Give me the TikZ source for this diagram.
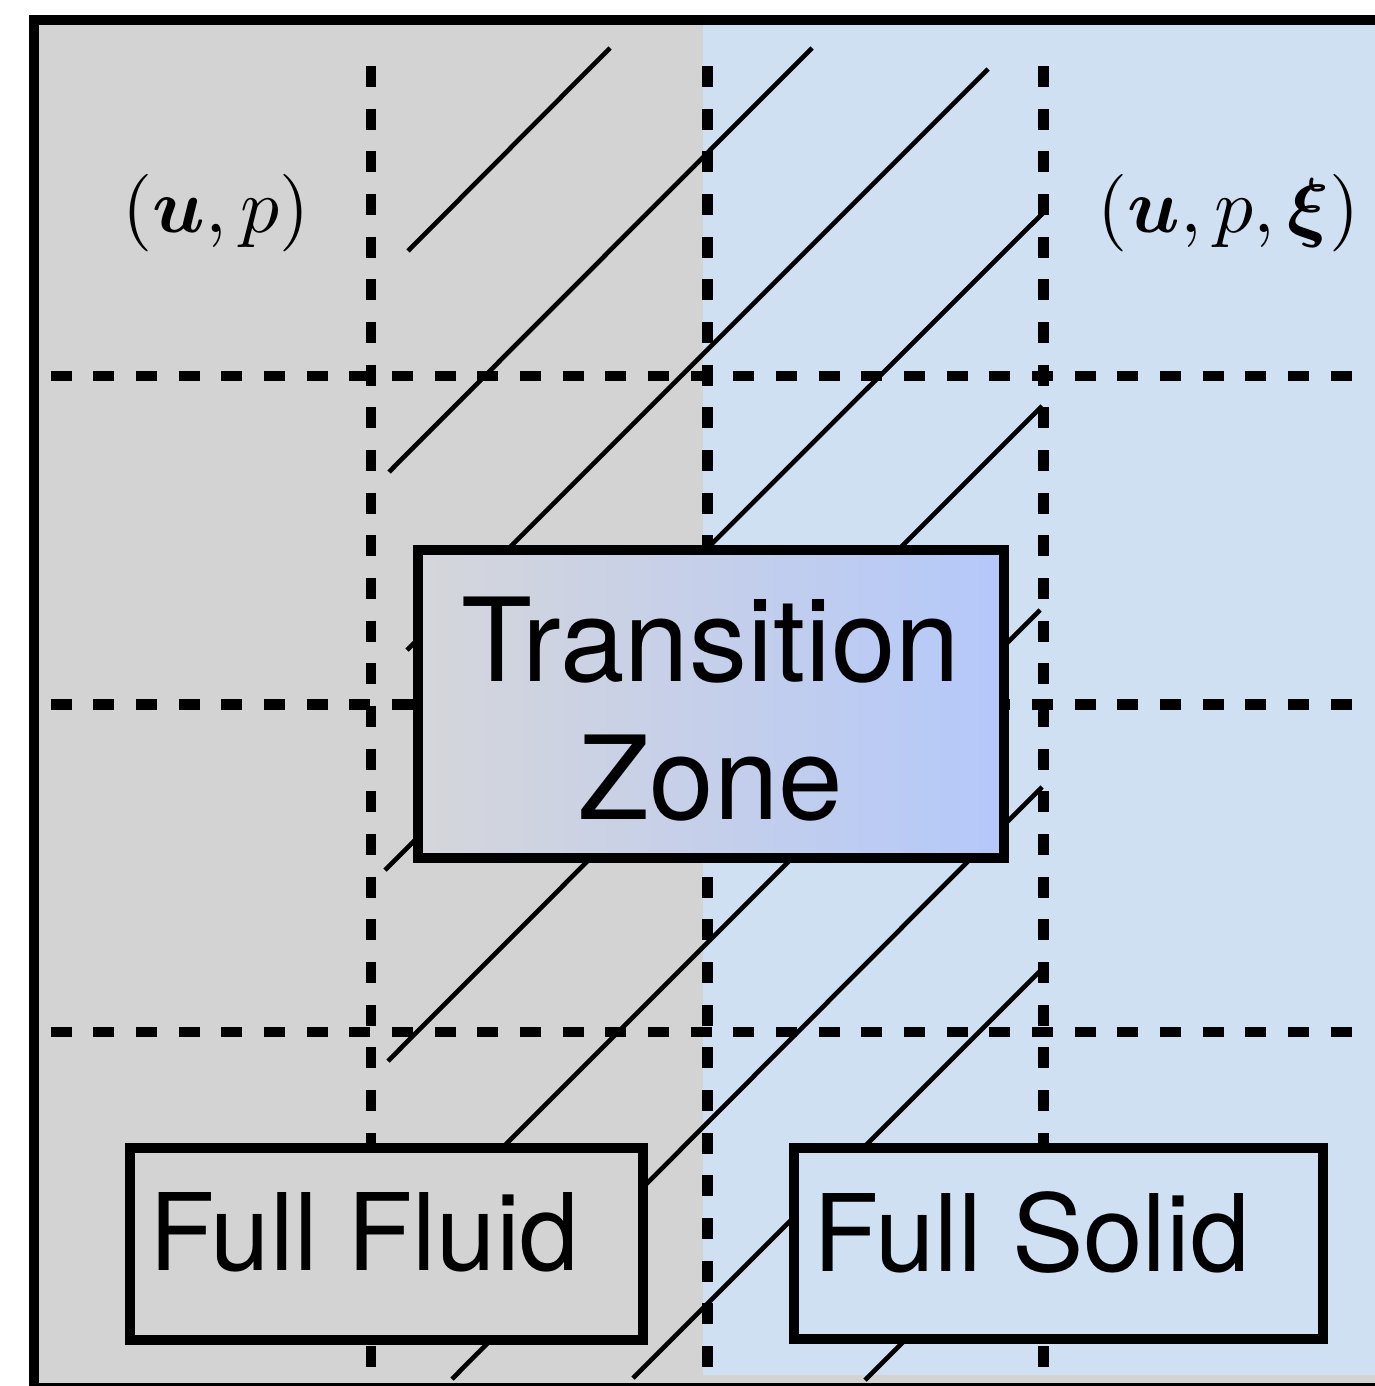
\documentclass[tikz,border=0pt]{standalone}
\usepackage{amsmath}
\usepackage{bm}
\usepackage{graphicx}
\usepackage{fontspec}
\newfontfamily\heros{TeX Gyre Heros}
\definecolor{fluidgray}{RGB}{211,211,211}
\definecolor{solidblue}{RGB}{207,224,242}
\definecolor{tzleft}{RGB}{213,214,218}
\definecolor{tzright}{RGB}{180,200,250}
\begin{document}
\begin{tikzpicture}[x=1pt,y=-1pt,
  gridline/.style={line width=10.5pt, dash pattern=on 21pt off 21.67pt},
  hatch/.style={line width=4.6pt},
  zonebox/.style={draw, line width=10.5pt, inner sep=0pt},
  lbl/.style={font=\heros\fontsize{107}{128}\selectfont, inner sep=0pt, anchor=base west},
  tzlbl/.style={font=\heros\fontsize{116}{138}\selectfont, inner sep=0pt, align=center},
  mathlbl/.style={inner sep=0pt, anchor=base}]
\useasboundingbox (0,0) rectangle (1374,1386);
% backgrounds
\fill[fluidgray] (34,20) rectangle (1390,1388);
\fill[solidblue] (703,25) rectangle (1390,1375);
% dashed grid
\foreach \x in {371,707.5,1043.5} \draw[gridline] (\x,66) -- (\x,1368);
\foreach \y in {376,704.5,1032} \draw[gridline] (50.5,\y) -- (1354,\y);
% hatching
\draw[hatch] (408,251) -- (610,48);
\draw[hatch] (389,472) -- (812,48);
\draw[hatch] (407,650) -- (988,69);
\draw[hatch] (385,870) -- (1043,213);
\draw[hatch] (388,1061) -- (1042,406);
\draw[hatch] (430,1220) -- (1040,610);
\draw[hatch] (452,1379) -- (1042,787);
\draw[hatch] (633,1378) -- (1043,968);
\draw[hatch] (865,1380) -- (1000,1245);
% outer frame
\draw[line width=10pt] (34,20) rectangle (1390,1388);
% transition zone
\node[zonebox, left color=tzleft, right color=tzright, minimum width=586pt, minimum height=308pt] (tz) at (711,704) {};
\node[tzlbl] (tztext) at (711,709) {Transition\\Zone};
% full fluid / full solid
\node[zonebox, fill=fluidgray, minimum width=513pt, minimum height=192pt] (ff) at (386.5,1244) {};
\node[lbl] (fftext) at (149,1270) {Full Fluid};
\node[zonebox, fill=solidblue, minimum width=529pt, minimum height=191pt] (fs) at (1058.5,1243.5) {};
\node[lbl] (fstext) at (813.5,1271) {Full Solid};
% variable labels
\node[mathlbl] (upl) at (216,232) {\scalebox{7.75}{$(\bm{u}, p)$}};
\node[mathlbl] (upxil) at (1228.5,232) {\scalebox{7.75}{$(\bm{u}, p, \bm{\xi})$}};
\end{tikzpicture}
\end{document}
